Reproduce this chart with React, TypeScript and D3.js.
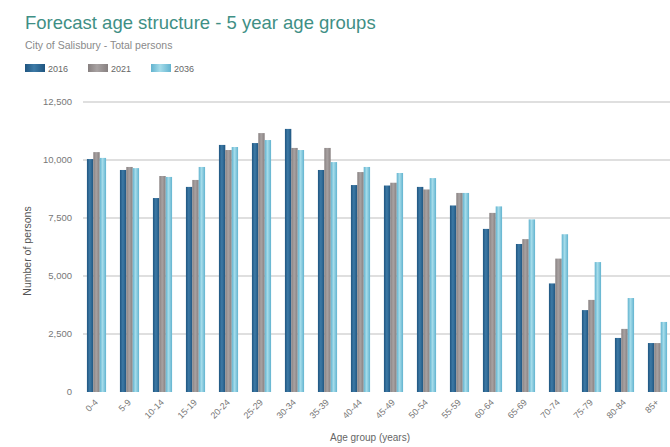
import React from "react";
import * as d3 from "d3";

const ageGroups = ["0-4","5-9","10-14","15-19","20-24","25-29","30-34","35-39","40-44","45-49","50-54","55-59","60-64","65-69","70-74","75-79","80-84","85+"];
const years = ["2016", "2021", "2036"];
const values2016 = [10040, 9570, 8360, 8840, 10650, 10730, 11340, 9570, 8920, 8900, 8840, 8040, 7030, 6380, 4680, 3530, 2330, 2110];
const values2021 = [10340, 9700, 9310, 9140, 10430, 11160, 10520, 10520, 9480, 9020, 8730, 8580, 7720, 6590, 5750, 3970, 2720, 2110];
const values2036 = [10090, 9650, 9270, 9700, 10560, 10860, 10430, 9910, 9700, 9440, 9220, 8580, 8000, 7440, 6800, 5600, 4050, 3020];
const yTicks = [0, 2500, 5000, 7500, 10000, 12500];

const W = 670, H = 447;
const M = { left: 80, right: 674, top: 102, bottom: 392 };

export default function App() {
  const series = [values2016, values2021, values2036];
  const colors = [
    ["#3d7aa6", "#1f5580"],
    ["#a8a2a2", "#878080"],
    ["#a5dcea", "#62b3cf"],
  ];
  const x0 = d3.scaleBand().domain(ageGroups).range([M.left, M.right]).paddingInner(0.42).paddingOuter(0.21);
  const x1 = d3.scaleBand().domain(years).range([0, x0.bandwidth()]).padding(0);
  const y = d3.scaleLinear().domain([0, 12500]).range([M.bottom, M.top]);
  const fmt = d3.format(",");
  const font = "'Liberation Sans', Arial, sans-serif";

  return (
    <svg width={W} height={H} style={{ position: "absolute", left: 0, top: 0, background: "#fff" }} fontFamily={font}>
      <defs>
        {colors.map((c, i) => (
          <linearGradient key={i} id={`g${i}`} x1="0" x2="1" y1="0" y2="0">
            <stop offset="0" stopColor={c[1]} />
            <stop offset="0.45" stopColor={c[0]} />
            <stop offset="1" stopColor={c[1]} />
          </linearGradient>
        ))}
      </defs>
      <text x={25} y={29} fontSize={18.5} fill="#3f8f85">Forecast age structure - 5 year age groups</text>
      <text x={25} y={49} fontSize={10.5} fill="#8a8a8a">City of Salisbury - Total persons</text>
      {years.map((yr, i) => (
        <g key={yr} transform={`translate(${25 + i * 63},64)`}>
          <rect x={0} y={0} width={20} height={8} fill={`url(#g${i})`} />
          <text x={23} y={8} fontSize={9} fill="#666">{yr}</text>
        </g>
      ))}
      {yTicks.map((t) => (
        <g key={t}>
          {t > 0 && <line x1={M.left + 3} x2={W} y1={y(t)} y2={y(t)} stroke="#d4d4d4" strokeWidth={1.5} />}
          <text x={72} y={y(t) + 3} fontSize={9.5} fill="#777" textAnchor="end">{fmt(t)}</text>
        </g>
      ))}
      <text transform={`translate(31,${(M.top + M.bottom) / 2 + 4}) rotate(-90)`} fontSize={10.5} fill="#555" textAnchor="middle">Number of persons</text>
      {ageGroups.map((g, gi) => (
        <g key={g} transform={`translate(${x0(g)},0)`}>
          {series.map((s, si) => (
            <rect key={si} x={x1(years[si])} y={y(s[gi])} width={x1.bandwidth()} height={y(0) - y(s[gi])} fill={`url(#g${si})`} />
          ))}
        </g>
      ))}
      {ageGroups.map((g) => {
        const cx = (x0(g) as number) + x0.bandwidth() / 2;
        return (
          <text key={g} transform={`translate(${cx + 2},${M.bottom + 11}) rotate(-45)`} fontSize={9} fill="#777" textAnchor="end">{g}</text>
        );
      })}
      <text x={370} y={441} fontSize={10} fill="#666" textAnchor="middle">Age group (years)</text>
    </svg>
  );
}
